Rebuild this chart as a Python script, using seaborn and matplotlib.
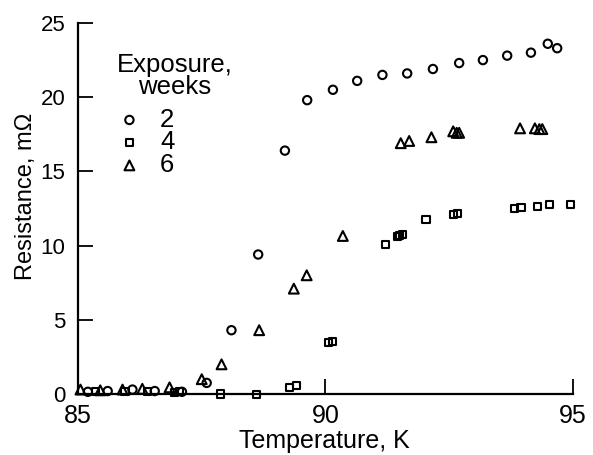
import matplotlib
matplotlib.use("Agg")
import matplotlib.pyplot as plt
import seaborn as sns
import pandas as pd

# Resistance vs temperature for three exposure times
temp_2wk = [85.2, 85.6, 86.1, 86.55, 87.1, 87.6, 88.1, 88.64, 89.18, 89.63, 90.15,
            90.64, 91.15, 91.65, 92.17, 92.70, 93.18, 93.67, 94.15, 94.49, 94.68]
res_2wk = [0.15, 0.2, 0.3, 0.2, 0.15, 0.75, 4.3, 9.4, 16.4, 19.8, 20.5,
           21.1, 21.5, 21.6, 21.9, 22.3, 22.5, 22.8, 23.0, 23.6, 23.3]

temp_4wk = [85.35, 85.95, 86.4, 86.95, 87.05, 87.87, 88.6, 89.28, 89.42, 90.06, 90.14,
            91.22, 91.45, 91.5, 91.55, 92.03, 92.58, 92.66, 93.81, 93.95, 94.28, 94.52, 94.95]
res_4wk = [0.15, 0.15, 0.2, 0.1, 0.15, 0.0, -0.05, 0.43, 0.56, 3.46, 3.52,
           10.1, 10.6, 10.7, 10.75, 11.75, 12.1, 12.15, 12.5, 12.58, 12.63, 12.74, 12.74]

temp_6wk = [85.05, 85.45, 85.9, 86.3, 86.85, 87.5, 87.9, 88.66, 89.36, 89.62, 90.35,
            91.52, 91.69, 92.14, 92.58, 92.65, 92.7, 93.93, 94.23, 94.32, 94.38]
res_6wk = [0.3, 0.25, 0.3, 0.35, 0.45, 1.0, 2.0, 4.3, 7.1, 8.0, 10.65,
           16.9, 17.05, 17.3, 17.7, 17.6, 17.6, 17.9, 17.9, 17.85, 17.85]

weeks = ["2", "4", "6"]
markers = {"2": "o", "4": "s", "6": "^"}
sizes = {"2": 36, "4": 26, "6": 50}

df = pd.concat([
    pd.DataFrame({"T": temp_2wk, "R": res_2wk, "weeks": "2"}),
    pd.DataFrame({"T": temp_4wk, "R": res_4wk, "weeks": "4"}),
    pd.DataFrame({"T": temp_6wk, "R": res_6wk, "weeks": "6"}),
])

sns.set_theme(style="ticks")
plt.rcParams["font.family"] = ["Liberation Sans", "DejaVu Sans"]
plt.rcParams["text.color"] = "black"
plt.rcParams["axes.labelcolor"] = "black"

fig = plt.figure(figsize=(5.93, 4.55), dpi=100)
ax = fig.add_axes([0.1315, 0.134, 0.8348, 0.8155])

handles = []
for w in weeks:
    sub = df[df["weeks"] == w]
    before = len(ax.collections)
    sns.scatterplot(data=sub, x="T", y="R", marker=markers[w], s=sizes[w],
                    color="black", ax=ax, legend=False, clip_on=False, zorder=3)
    coll = ax.collections[before]
    coll.set_facecolor("none")
    coll.set_edgecolor("black")
    coll.set_linewidth(1.5)
    handles.append(coll)

ax.set_xlim(85, 95)
ax.set_ylim(0, 25)
ax.set_xticks([85, 90, 95])
ax.set_yticks([0, 5, 10, 15, 20, 25])
ax.tick_params(direction="in", length=11, width=1.3, color="black",
               labelcolor="black")
ax.tick_params(axis="y", pad=9, labelsize=16)
ax.tick_params(axis="x", pad=7, labelsize=18)
for side in ["top", "right"]:
    ax.spines[side].set_visible(False)
for side in ["left", "bottom"]:
    ax.spines[side].set_linewidth(1.6)
    ax.spines[side].set_color("black")

ax.set_xlabel("Temperature, K", fontsize=18, color="black")
ax.set_ylabel("Resistance, mΩ", fontsize=17, color="black")
ax.xaxis.set_label_coords(0.498, -0.093)
ax.yaxis.set_label_coords(-0.083, 0.532)

leg = ax.legend(handles, weeks, title="Exposure,\nweeks", loc="upper left",
                bbox_to_anchor=(0.052, 0.953), frameon=False, fontsize=18.5,
                title_fontsize=18.5, handletextpad=0.7, labelspacing=-0.05,
                borderpad=0, handlelength=1.0, alignment="left")
leg.get_title().set_multialignment("center")
leg.get_title().set_linespacing(0.9)
leg._legend_box.sep = 6
for t in leg.get_texts():
    t.set_color("black")
leg.get_title().set_color("black")

fig.savefig("out.png", dpi=100)
